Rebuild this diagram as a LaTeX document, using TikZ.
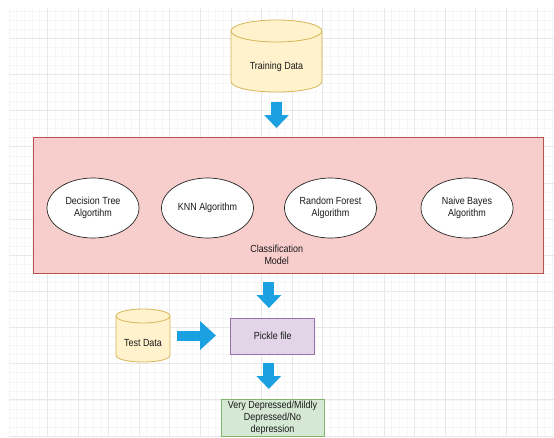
\documentclass[tikz,border=0pt]{standalone}
\usepackage{fontspec}
\setmainfont[FakeStretch=0.87]{Liberation Sans}
\usetikzlibrary{arrows.meta,shapes.geometric}
\definecolor{gridminor}{HTML}{F6F6F6}
\definecolor{gridmajor}{HTML}{E8E8E8}
\definecolor{yfill}{HTML}{FFF2CC}
\definecolor{ydraw}{HTML}{D6B656}
\definecolor{rfill}{HTML}{F8CECC}
\definecolor{rdraw}{HTML}{B85450}
\definecolor{pfill}{HTML}{E1D5E7}
\definecolor{pdraw}{HTML}{9673A6}
\definecolor{gfill}{HTML}{D5E8D4}
\definecolor{gdraw}{HTML}{82B366}
\definecolor{arrowblue}{HTML}{1BA1E2}
\definecolor{txtcol}{HTML}{1A1A1A}
\newcommand\mycyl[5]{% left right top bottom ry
  \filldraw[fill=yfill, draw=ydraw, line width=0.8pt]
    (#1,{#3+#5}) -- (#1,{#4-#5})
    .. controls (#1,{#4-#5+4/3*#5}) and (#2,{#4-#5+4/3*#5}) .. (#2,{#4-#5})
    -- (#2,{#3+#5});
  \filldraw[fill=yfill, draw=ydraw, line width=0.8pt]
    ({(#1+#2)/2},{#3+#5}) ellipse[x radius={(#2-#1)/2}, y radius=#5];
}
\begin{document}
\begin{tikzpicture}[x=1pt,y=-1pt,
  font=\fontsize{10.3}{12}\selectfont,
  lbl/.style={align=center, text=txtcol, inner sep=0pt},
  holder/.style={draw=none, inner sep=0pt},
  algo/.style={ellipse, draw=black!85, line width=0.7pt, fill=white,
    minimum width=92pt, minimum height=60pt, align=center, inner sep=0pt, text=txtcol},
  blockarrow/.style={draw=arrowblue, line width=11pt,
    -{Triangle[width=24pt,length=13pt]}},
  sidearrow/.style={draw=arrowblue, line width=10pt,
    -{Triangle[width=28pt,length=16pt]}}]
\useasboundingbox (0,0) rectangle (554,437);
\fill[white] (0,0) rectangle (554,437);
% grid
\begin{scope}
\clip (9,8) rectangle (554,437);
\foreach \i in {0,...,71} \draw[gridminor, line width=0.6pt] ({9.05+\i*7.65},8) -- ++(0,429);
\foreach \j in {0,...,48} \draw[gridminor, line width=0.6pt] (9,{2.14+\j*9.04}) -- ++(545,0);
\foreach \k in {0,...,16} \draw[gridmajor, line width=0.7pt] ({47.3+\k*30.6},8) -- ++(0,429);
\foreach \k in {0,...,11} \draw[gridmajor, line width=0.7pt] (9,{38.3+\k*36.15}) -- ++(545,0);
\end{scope}

% training data cylinder
\node[holder, minimum width=91pt, minimum height=72pt] (train) at (276.5,56) {};
\mycyl{231}{322}{20}{92}{11}
\node[lbl] (trainlbl) at (276.5,67) {Training Data};

% classification model box
\node[draw=rdraw, fill=rfill, line width=0.8pt, minimum width=510pt, minimum height=136pt, inner sep=0pt] (model) at (287.9,205) {};
\node[algo] (dt) at (93,208) {Decision Tree\\Algortihm};
\node[algo] (knn) at (207.5,208) {KNN Algorithm};
\node[algo] (rf) at (330.5,208) {Random Forest\\Algorithm};
\node[algo] (nb) at (467,208) {Naive Bayes\\Algorithm};
\node[lbl] (modellbl) at (276.7,255) {Classification\\Model};

% test data cylinder
\node[holder, minimum width=54pt, minimum height=53pt] (test) at (143,335.5) {};
\mycyl{116}{170}{309}{362}{7}
\node[lbl] (testlbl) at (143,343) {Test Data};

% pickle file
\node[draw=pdraw, fill=pfill, line width=0.8pt, minimum width=84pt, minimum height=36pt, text=txtcol] (pickle) at (272.8,336) {Pickle file};

% output
\node[draw=gdraw, fill=gfill, line width=0.8pt, minimum width=103pt, minimum height=37pt, align=center, inner sep=0pt, text=txtcol] (out) at (272.5,417.5) {Very Depressed/Mildly\\Depressed/No\\depression};

% arrows
\coordinate (a1) at (276.5,128);
\coordinate (a2) at (268.9,308);
\coordinate (a3) at (216,335.5);
\coordinate (a4) at (268.8,389);
\draw[blockarrow] ([yshift=-10pt]train.south) -- (a1);
\draw[blockarrow] ([xshift=-19pt,yshift=-9pt]model.south) -- (a2);
\draw[sidearrow] ([xshift=7pt]test.east) -- (a3);
\draw[blockarrow] ([xshift=-4pt,yshift=-9pt]pickle.south) -- (a4);
\end{tikzpicture}
\end{document}
